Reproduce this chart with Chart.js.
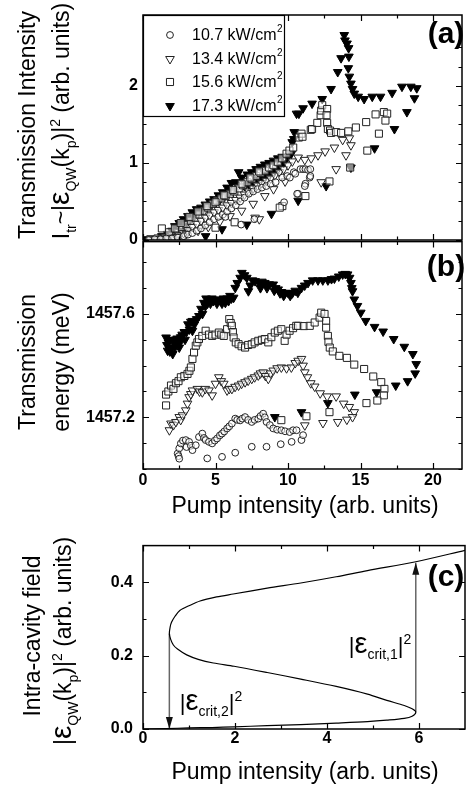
<!DOCTYPE html>
<html>
<head>
<meta charset="utf-8">
<script src="https://cdn.jsdelivr.net/npm/chart.js@4.4.0/dist/chart.umd.min.js"></script>
<style>
  html, body { margin: 0; padding: 0; background: #fff; }
  #wrap { position: relative; width: 468px; height: 787px; overflow: hidden; }
  #wrap canvas { position: absolute; left: 0; }
</style>
</head>
<body>
<div id="wrap">
  <canvas id="chartA" width="468" height="256" style="top:0px"></canvas>
  <canvas id="chartB" width="468" height="306" style="top:224px"></canvas>
  <canvas id="chartC" width="468" height="261" style="top:526px"></canvas>
</div>
<script>
'use strict';

// ---------- data ----------
const powerLabels = ['10.7 kW/cm', '13.4 kW/cm', '15.6 kW/cm', '17.3 kW/cm'];

// (a) transmission intensity vs pump intensity
const intX107 = [0.4,0.8,1.2,1.6,2.0,2.4,2.8,3.1,3.4,3.7,4.0,4.3,4.6,4.9,5.2,5.5,5.68,5.8,6.1,6.4,6.7,7.0,7.3,7.6,7.9,8.2,8.5,8.8,9.15,9.6,9.95,10.13,10.4,10.5,10.86,11.04,11.2,11.38,11.54,11.5,11.54,11.2,11.16,10.7,10.63,9.73,7.68,6.77];
const intY107 = [0.00,0.01,0.01,0.02,0.02,0.03,0.05,0.07,0.09,0.12,0.15,0.19,0.23,0.27,0.30,0.33,0.30,0.37,0.41,0.45,0.50,0.55,0.60,0.63,0.66,0.68,0.70,0.73,0.75,0.81,0.83,0.81,0.88,0.86,0.92,0.92,0.92,0.91,0.92,0.81,0.83,0.73,0.70,0.60,0.60,0.49,0.27,0.20];
const intX134 = [0.5,0.9,1.3,1.7,2.1,2.5,2.8,3.1,3.4,3.7,4.0,4.3,4.6,4.9,5.2,5.5,5.8,6.1,6.4,6.7,7.0,7.3,7.6,7.9,8.2,8.5,8.8,9.1,9.4,9.7,10.0,10.3,10.7,11.16,11.6,12.07,12.56,13.2,13.77,14.23,14.34,14.0,13.32,12.29,8.02,7.73,
    2.3,3.0,3.8,4.5,5.3,6.0,6.8,7.6,8.4,9.0,9.8];
const intY134 = [0.01,0.01,0.02,0.02,0.03,0.06,0.09,0.13,0.17,0.21,0.25,0.29,0.32,0.36,0.39,0.42,0.45,0.48,0.52,0.55,0.59,0.63,0.67,0.71,0.74,0.77,0.80,0.84,0.88,0.92,0.97,1.02,1.07,1.04,1.06,1.10,1.15,1.20,1.30,1.32,1.23,1.10,0.92,0.75,0.27,0.29,
    0.04,0.08,0.12,0.17,0.24,0.31,0.38,0.47,0.57,0.66,0.76];
const intX156 = [0.5,1.0,1.3,1.5,2.0,2.4,2.7,3.0,3.3,3.6,3.9,4.2,4.5,4.8,5.1,5.4,5.7,6.0,6.3,6.6,6.9,7.2,7.5,7.8,8.1,8.4,8.7,9.0,9.3,9.6,9.9,10.1,10.36,10.75,10.93,11.0,11.57,11.66,12.02,12.25,12.29,12.36,12.7,12.66,12.7,12.75,12.9,12.97,13.32,13.66,14.16,14.68,15.39,16.04,16.61,16.84,16.72,16.27,15.47,14.29,12.86,11.2,9.61,9.43,6.32,5.0,
    1.8,2.2,2.6,3.2,3.8,4.4,5.0,5.6,6.2,6.8,7.4,8.0];
const intY156 = [0.01,0.02,0.15,0.03,0.05,0.09,0.14,0.19,0.25,0.29,0.33,0.38,0.42,0.47,0.51,0.54,0.57,0.60,0.63,0.67,0.71,0.75,0.79,0.83,0.87,0.90,0.94,0.97,1.01,1.06,1.12,1.16,1.20,1.33,1.38,1.34,1.43,1.44,1.52,1.62,1.68,1.75,1.70,1.62,1.52,1.44,1.42,1.39,1.40,1.39,1.41,1.46,1.53,1.63,1.66,1.64,1.55,1.38,1.16,0.94,0.76,0.57,0.44,0.42,0.23,0.16,
    0.10,0.15,0.22,0.30,0.37,0.44,0.49,0.58,0.65,0.73,0.81,0.89];
const intX173 = [0.3,0.7,1.1,1.5,1.9,2.3,2.6,2.9,3.2,3.5,3.8,4.1,4.4,4.7,5.0,5.3,5.6,5.9,6.2,6.4,6.6,6.8,7.0,7.3,7.6,7.9,8.2,8.5,8.8,9.1,9.4,9.7,10.0,10.23,10.29,10.4,10.43,10.59,10.75,11.04,11.66,12.36,12.97,13.43,13.66,13.88,13.93,14.07,14.18,14.2,14.16,14.23,14.34,14.45,14.57,14.84,15.25,15.81,16.38,17.18,17.86,18.47,18.88,18.72,18.2,17.34,15.97,14.34,12.63,10.7,8.86,7.16,5.45,4.32,
    1.3,1.7,2.0,2.2,2.5,2.8,3.1,3.4,3.7,4.0,4.3,4.6,4.9,5.2,5.5,5.8,6.1,7.2,7.5,7.8,8.1,8.4,8.7,9.0,9.3,9.6];
const intY173 = [0.01,0.01,0.02,0.03,0.05,0.08,0.12,0.18,0.25,0.30,0.35,0.39,0.42,0.45,0.48,0.52,0.56,0.60,0.63,0.75,0.88,0.81,0.70,0.72,0.75,0.78,0.81,0.84,0.87,0.90,0.95,1.00,1.08,1.12,1.27,1.31,1.40,1.64,1.64,1.71,1.77,1.83,1.96,2.18,2.36,2.66,2.59,2.55,2.49,2.38,2.23,2.12,2.03,1.96,1.90,1.86,1.83,1.86,1.86,1.91,1.99,1.99,1.97,1.84,1.66,1.44,1.19,0.94,0.70,0.51,0.34,0.20,0.14,0.05,
    0.05,0.08,0.12,0.18,0.22,0.27,0.31,0.36,0.40,0.42,0.46,0.50,0.53,0.58,0.62,0.68,0.74,0.85,0.88,0.92,0.95,0.98,1.00,1.03,1.06,1.08];

// (b) transmission energy vs pump intensity
const enX107 = [2.39,2.45,2.5,2.5,2.61,2.75,2.95,3.0,3.18,3.3,3.41,3.64,3.86,4.09,4.2,4.32,4.55,4.77,4.95,5.11,5.3,5.45,5.6,5.8,5.95,6.13,6.36,6.5,6.7,6.85,7.04,7.25,7.5,7.7,7.95,8.1,8.29,8.4,8.52,8.75,8.98,9.25,9.54,9.8,10.11,10.25,10.35,10.59,10.93,11.04,4.43,5.45,6.36,7.5,8.52,9.5];
const enY107 = [1457.060,1457.050,1457.080,1457.040,1457.099,1457.110,1457.112,1457.085,1457.105,1457.090,1457.073,1457.092,1457.124,1457.137,1457.120,1457.112,1457.105,1457.099,1457.110,1457.118,1457.130,1457.137,1457.145,1457.157,1457.165,1457.176,1457.195,1457.190,1457.188,1457.195,1457.201,1457.190,1457.182,1457.190,1457.195,1457.205,1457.214,1457.200,1457.182,1457.170,1457.157,1457.152,1457.150,1457.146,1457.143,1457.105,1457.150,1457.150,1457.112,1457.131,1457.041,1457.047,1457.063,1457.086,1457.086,1457.096];
const enX134 = [1.82,1.93,2.1,2.27,2.5,2.6,2.73,2.95,3.07,3.18,3.3,3.41,3.75,3.9,4.09,4.3,4.55,4.77,5.0,5.23,5.4,5.57,5.8,5.95,6.13,6.35,6.59,6.8,7.04,7.25,7.5,7.7,7.95,8.1,8.29,8.45,8.64,8.8,8.98,9.25,9.54,9.9,10.23,10.5,10.7,10.93,11.04,11.16,11.34,11.57,11.84,12.22,12.7,13.32,13.84,14.23,14.57,14.45,14.06,13.43,12.41,11.16];
const enY134 = [1457.150,1457.176,1457.170,1457.182,1457.201,1457.190,1457.208,1457.227,1457.253,1457.278,1457.290,1457.304,1457.310,1457.300,1457.297,1457.310,1457.304,1457.285,1457.330,1457.355,1457.340,1457.330,1457.304,1457.310,1457.310,1457.318,1457.323,1457.330,1457.336,1457.342,1457.349,1457.355,1457.362,1457.370,1457.374,1457.360,1457.349,1457.370,1457.381,1457.390,1457.393,1457.390,1457.393,1457.410,1457.419,1457.426,1457.400,1457.374,1457.355,1457.332,1457.319,1457.293,1457.281,1457.281,1457.253,1457.240,1457.220,1457.201,1457.191,1457.182,1457.178,1457.169];
const enX156 = [1.59,1.59,1.75,1.93,2.1,2.27,2.45,2.61,2.85,3.07,3.2,3.3,3.41,3.52,3.64,3.75,3.86,4.09,4.32,4.55,4.77,5.0,5.23,5.4,5.57,5.8,5.95,6.05,6.13,6.2,6.25,6.4,6.59,6.8,7.04,7.25,7.5,7.7,7.95,8.2,8.4,8.64,8.85,9.09,9.3,9.54,9.77,9.9,10.11,10.35,10.57,10.7,11.1,11.5,11.84,12.18,12.29,12.52,12.63,12.63,12.75,12.79,12.88,13.09,13.54,14.06,14.57,15.25,15.88,16.43,16.65,16.61,16.16,15.41,12.86,11.27,9.54];
const enY156 = [1457.246,1457.288,1457.300,1457.323,1457.310,1457.332,1457.340,1457.355,1457.360,1457.368,1457.380,1457.393,1457.426,1457.451,1457.477,1457.490,1457.503,1457.515,1457.535,1457.520,1457.515,1457.520,1457.528,1457.520,1457.515,1457.541,1457.580,1457.565,1457.554,1457.530,1457.509,1457.490,1457.483,1457.475,1457.470,1457.480,1457.483,1457.490,1457.496,1457.500,1457.503,1457.490,1457.510,1457.528,1457.535,1457.541,1457.496,1457.520,1457.535,1457.545,1457.554,1457.554,1457.553,1457.554,1457.567,1457.586,1457.605,1457.600,1457.573,1457.547,1457.515,1457.492,1457.470,1457.455,1457.438,1457.430,1457.404,1457.387,1457.358,1457.336,1457.310,1457.285,1457.265,1457.255,1457.220,1457.204,1457.189];
const enX173 = [1.59,1.70,1.8,1.9,2.05,2.15,2.27,2.4,2.5,2.6,2.73,2.9,3.0,3.2,3.41,3.41,3.55,3.7,3.86,4.0,4.2,4.35,4.55,4.75,5.0,5.23,5.45,5.68,5.9,6.1,6.25,6.36,6.5,6.7,6.82,7.0,7.16,7.27,7.4,7.55,7.73,8.0,8.2,8.4,8.7,8.98,9.15,9.32,9.55,9.8,10.0,10.3,10.68,10.93,11.15,11.38,11.7,12.07,12.4,12.75,13.0,13.2,13.5,13.77,13.95,14.11,14.25,14.34,14.4,14.45,14.57,14.79,15.02,15.36,15.97,16.56,17.29,18.02,18.61,18.84,18.77,18.25,17.43,16.11,14.61,12.75,10.93,9.09,
    1.65,1.75,1.85,2.0,2.2,2.35,2.55,2.7,2.85,3.1,3.3,4.1,4.3,4.45,4.65,4.85,5.1,5.35,5.55,5.8,6.0,8.1,8.55,9.05,9.45,9.7,10.15,10.5];
const enY173 = [1457.509,1457.458,1457.500,1457.470,1457.445,1457.490,1457.483,1457.500,1457.470,1457.510,1457.515,1457.500,1457.530,1457.540,1457.535,1457.573,1457.560,1457.580,1457.592,1457.620,1457.643,1457.660,1457.656,1457.660,1457.655,1457.656,1457.640,1457.643,1457.650,1457.660,1457.663,1457.701,1457.720,1457.740,1457.759,1457.750,1457.740,1457.688,1457.710,1457.730,1457.727,1457.720,1457.725,1457.720,1457.715,1457.714,1457.700,1457.695,1457.685,1457.680,1457.682,1457.680,1457.682,1457.701,1457.710,1457.720,1457.730,1457.730,1457.730,1457.730,1457.735,1457.737,1457.745,1457.753,1457.755,1457.753,1457.740,1457.720,1457.700,1457.688,1457.656,1457.631,1457.605,1457.573,1457.550,1457.532,1457.503,1457.473,1457.445,1457.406,1457.370,1457.340,1457.323,1457.297,1457.288,1457.255,1457.220,1457.201,
    1457.480,1457.490,1457.455,1457.500,1457.470,1457.505,1457.490,1457.520,1457.530,1457.560,1457.570,1457.600,1457.630,1457.640,1457.640,1457.650,1457.640,1457.650,1457.660,1457.660,1457.670,1457.700,1457.700,1457.690,1457.680,1457.670,1457.670,1457.690];

// (c) intra-cavity field (bistability curve, traced along the S shape)
const fieldX = [0,0.5,1.0,1.5,1.98,2.7,3.43,4.2,4.88,5.3,5.68,5.85,5.93,5.85,5.68,5.3,4.88,4.2,3.43,2.7,1.98,1.53,1.2,0.95,0.75,0.66,0.6,0.573,0.59,0.62,0.7,0.8,1.0,1.24,1.6,1.96,2.7,3.43,4.2,4.88,5.93,7.0];
const fieldY = [0,0.001,0.003,0.004,0.006,0.009,0.012,0.016,0.020,0.024,0.029,0.035,0.046,0.055,0.064,0.078,0.095,0.116,0.136,0.154,0.171,0.180,0.190,0.202,0.218,0.229,0.245,0.260,0.278,0.291,0.308,0.323,0.336,0.349,0.360,0.368,0.384,0.398,0.415,0.432,0.456,0.487];
const arrowX = [0.573, 5.93];
const arrowFrom = [0.26, 0.046];
const arrowTo = [0.0, 0.453];

// ticks
const ticksXab = [0, 5, 10, 15, 20];
const minorXab = [2.5, 7.5, 12.5, 17.5];
const ticksYa = [0, 1, 2];
const minorYa = [0.25, 0.5, 0.75, 1.25, 1.5, 1.75, 2.25, 2.5, 2.75];
const ticksYb = [1457.2, 1457.6];
const minorYb = [1457.0, 1457.1, 1457.3, 1457.4, 1457.5, 1457.7, 1457.8];
const ticksXc = [0, 2, 4, 6];
const minorXc = [1, 3, 5];
const ticksYc = [0, 0.2, 0.4];
const minorYc = [0.1, 0.3];

// ---------- helpers ----------
const FONT = '"Liberation Sans", Arial, Helvetica, sans-serif';
const OPEN = 'rgba(255,255,255,0.55)';

const markers = [
    { style: 'circle', r: 3.4, rot: 0, fill: OPEN, line: '#222' },
    { style: 'triangle', r: 5, rot: 180, fill: OPEN, line: '#222' },
    { style: 'rect', r: 5, rot: 0, fill: OPEN, line: '#222' },
    { style: 'triangle', r: 5, rot: 180, fill: '#000', line: '#000' }
];

function zip(xs, ys) {
    return xs.map((x, i) => ({ x: x, y: ys[i] }));
}

function scatterSet(xs, ys, m) {
    return {
        data: zip(xs, ys),
        showLine: false,
        pointStyle: m.style,
        pointRadius: m.r,
        pointHoverRadius: m.r,
        pointRotation: m.rot,
        pointBackgroundColor: m.fill,
        pointBorderColor: m.line,
        pointBorderWidth: 1
    };
}

function axis(min, max, majors, o) {
    return {
        type: 'linear',
        min: min,
        max: max,
        grid: { display: false, drawTicks: false },
        border: { display: false },
        ticks: {
            display: o.labels,
            color: '#000',
            padding: o.pad,
            autoSkip: false,
            maxRotation: 0,
            font: { family: FONT, size: 16, weight: 'bold' },
            callback: o.fmt
        },
        afterBuildTicks: s => { s.ticks = majors.map(v => ({ value: v })); },
        afterFit: s => {
            if (o.width) s.width = o.width;
            if (o.height) s.height = o.height;
        }
    };
}

// text with sub/superscripts, centred on (x, y)
function drawRich(ctx, item, top) {
    const size = item.size;
    const w = item.bold ? 'bold ' : '';
    const fontOf = k => {
        if (k === 'sub' || k === 'sup') return w + Math.round(size * 0.62) + 'px ' + FONT;
        if (k === 'eps') return w + Math.round(size * 1.3) + 'px ' + FONT;
        return w + size + 'px ' + FONT;
    };
    ctx.save();
    ctx.translate(item.x, item.y - top);
    ctx.rotate(item.rot || 0);
    ctx.fillStyle = '#000';
    ctx.textBaseline = 'alphabetic';
    ctx.textAlign = 'left';
    let width = 0;
    item.parts.forEach(p => { ctx.font = fontOf(p[1]); width += ctx.measureText(p[0]).width; });
    let cx = -width / 2;
    const base = size * 0.36;
    item.parts.forEach(p => {
        ctx.font = fontOf(p[1]);
        let dy = 0;
        if (p[1] === 'sub') dy = size * 0.28;
        if (p[1] === 'sup') dy = -size * 0.42;
        ctx.fillText(p[0], cx, base + dy);
        cx += ctx.measureText(p[0]).width;
    });
    ctx.restore();
}

function drawMarker(ctx, m, x, y) {
    ctx.beginPath();
    if (m.style === 'circle') {
        ctx.arc(x, y, m.r, 0, Math.PI * 2);
    } else if (m.style === 'rect') {
        const h = m.r * Math.SQRT1_2;
        ctx.rect(x - h, y - h, 2 * h, 2 * h);
    } else {
        let rad = m.rot * Math.PI / 180;
        ctx.moveTo(x + Math.sin(rad) * m.r, y - Math.cos(rad) * m.r);
        for (let k = 0; k < 2; k++) {
            rad += 2 * Math.PI / 3;
            ctx.lineTo(x + Math.sin(rad) * m.r, y - Math.cos(rad) * m.r);
        }
        ctx.closePath();
    }
    ctx.fillStyle = m.fill;
    ctx.strokeStyle = m.line;
    ctx.lineWidth = 1;
    ctx.fill();
    ctx.stroke();
}

// frame, inward ticks, titles, legend, arrow heads
const framePlugin = {
    id: 'frame',
    afterDraw(chart, args, o) {
        const ctx = chart.ctx;
        const a = chart.chartArea;
        const xs = chart.scales.x, ys = chart.scales.y;
        ctx.save();
        ctx.strokeStyle = '#000';
        ctx.lineWidth = 1.2;
        const tickX = (vals, len) => vals.forEach(v => {
            const px = Math.round(xs.getPixelForValue(v)) + 0.5;
            ctx.beginPath();
            ctx.moveTo(px, a.bottom); ctx.lineTo(px, a.bottom - len);
            ctx.moveTo(px, a.top); ctx.lineTo(px, a.top + len);
            ctx.stroke();
        });
        const tickY = (vals, len) => vals.forEach(v => {
            const py = Math.round(ys.getPixelForValue(v)) + 0.5;
            ctx.beginPath();
            ctx.moveTo(a.left, py); ctx.lineTo(a.left + len, py);
            ctx.moveTo(a.right, py); ctx.lineTo(a.right - len, py);
            ctx.stroke();
        });
        tickX(o.xMajor, 6); tickX(o.xMinor, 3.5);
        tickY(o.yMajor, 6); tickY(o.yMinor, 3.5);

        if (o.arrows) {
            ctx.fillStyle = '#111';
            o.arrows.x.forEach((xv, i) => {
                const px = xs.getPixelForValue(xv);
                const ty = ys.getPixelForValue(o.arrows.to[i]);
                const fy = ys.getPixelForValue(o.arrows.from[i]);
                const dir = ty > fy ? 1 : -1;
                ctx.beginPath();
                ctx.moveTo(px, ty);
                ctx.lineTo(px - 3.5, ty - dir * 12);
                ctx.lineTo(px + 3.5, ty - dir * 12);
                ctx.closePath();
                ctx.fill();
            });
        }

        if (o.legend) {
            const L = o.legend;
            ctx.fillStyle = '#fff';
            ctx.fillRect(a.left, a.top, L.w, L.h);
            ctx.strokeStyle = '#000';
            ctx.lineWidth = 1.2;
            ctx.strokeRect(a.left + 0.5, a.top + 0.5, L.w, L.h);
            L.labels.forEach((lab, i) => {
                const yy = a.top + L.rows[i];
                drawMarker(ctx, Object.assign({}, markers[i], { fill: markers[i].fill === OPEN ? '#fff' : markers[i].fill }), a.left + 27, yy);
                ctx.fillStyle = '#000';
                ctx.textBaseline = 'middle';
                ctx.textAlign = 'left';
                ctx.font = '16px ' + FONT;
                ctx.fillText(lab, a.left + 49, yy + 1);
                const tw = ctx.measureText(lab).width;
                ctx.font = '10px ' + FONT;
                ctx.fillText('2', a.left + 49 + tw + 0.5, yy - 6);
            });
        }

        ctx.strokeStyle = '#000';
        ctx.lineWidth = 1.5;
        ctx.strokeRect(a.left, a.top, a.right - a.left, a.bottom - a.top);
        ctx.restore();

        (o.texts || []).forEach(t => drawRich(ctx, t, o.top));
    }
};

const UP = -Math.PI / 2;

function commonOptions(padTop, scales, frame) {
    return {
        responsive: false,
        animation: false,
        events: [],
        layout: { padding: { top: padTop, right: 3, left: 0, bottom: 0 } },
        scales: scales,
        plugins: { legend: { display: false }, tooltip: { enabled: false }, frame: frame }
    };
}

// ---------- panel (a) ----------
new Chart(document.getElementById('chartA'), {
    type: 'scatter',
    plugins: [framePlugin],
    data: {
        datasets: [
            scatterSet(intX107, intY107, markers[0]),
            scatterSet(intX134, intY134, markers[1]),
            scatterSet(intX156, intY156, markers[2]),
            scatterSet(intX173, intY173, markers[3])
        ]
    },
    options: commonOptions(15, {
        x: axis(0, 22, ticksXab, { labels: false, pad: 0, height: 16 }),
        y: axis(0, 2.92, ticksYa, { labels: true, pad: 5, width: 143, fmt: v => String(v) })
    }, {
        top: 0,
        xMajor: ticksXab, xMinor: minorXab, yMajor: ticksYa, yMinor: minorYa,
        legend: { w: 141, h: 101, rows: [20, 44, 67, 91], labels: powerLabels },
        texts: [
            { parts: [['Transmission Intensity', 'n']], x: 27, y: 125, rot: UP, size: 23 },
            { parts: [['I', 'n'], ['tr', 'sub'], ['~|', 'n'], ['ε', 'eps'], ['QW', 'sub'], ['(k', 'n'], ['p', 'sub'], [')|', 'n'], ['2', 'sup'], [' (arb. units)', 'n']], x: 61, y: 121, rot: UP, size: 23 },
            { parts: [['(a)', 'n']], x: 446, y: 32, size: 30, bold: true }
        ]
    })
});

// ---------- panel (b) ----------
new Chart(document.getElementById('chartB'), {
    type: 'scatter',
    plugins: [framePlugin],
    data: {
        datasets: [
            scatterSet(enX107, enY107, markers[0]),
            scatterSet(enX134, enY134, markers[1]),
            scatterSet(enX156, enY156, markers[2]),
            scatterSet(enX173, enY173, markers[3])
        ]
    },
    options: commonOptions(16, {
        x: axis(0, 22, ticksXab, { labels: true, pad: 2, height: 61, fmt: v => String(v) }),
        y: axis(1457.0, 1457.88, ticksYb, { labels: true, pad: 8, width: 143, fmt: v => v.toFixed(1) })
    }, {
        top: 224,
        xMajor: ticksXab, xMinor: minorXab, yMajor: ticksYb, yMinor: minorYb,
        texts: [
            { parts: [['Transmission', 'n']], x: 27, y: 362, rot: UP, size: 23 },
            { parts: [['energy (meV)', 'n']], x: 61, y: 362, rot: UP, size: 23 },
            { parts: [['(b)', 'n']], x: 446, y: 265, size: 30, bold: true },
            { parts: [['Pump intensity (arb. units)', 'n']], x: 305, y: 505, size: 23 }
        ]
    })
});

// ---------- panel (c) ----------
const arrowSets = arrowX.map((xv, i) => ({
    data: zip([xv, xv], [arrowFrom[i], arrowTo[i]]),
    showLine: true,
    borderColor: '#666',
    borderWidth: 1.5,
    pointRadius: 0
}));

new Chart(document.getElementById('chartC'), {
    type: 'scatter',
    plugins: [framePlugin],
    data: {
        datasets: [{
            data: zip(fieldX, fieldY),
            showLine: true,
            borderColor: '#000',
            borderWidth: 1.2,
            tension: 0.3,
            pointRadius: 0
        }].concat(arrowSets)
    },
    options: commonOptions(16, {
        x: axis(0, 7, ticksXc, { labels: true, pad: 0, height: 58, fmt: v => String(v) }),
        y: axis(0, 0.5, ticksYc, { labels: true, pad: 10, width: 143, fmt: v => v.toFixed(1) })
    }, {
        top: 526,
        xMajor: ticksXc, xMinor: minorXc, yMajor: ticksYc, yMinor: minorYc,
        arrows: { x: arrowX, from: arrowFrom, to: arrowTo },
        texts: [
            { parts: [['Intra-cavity field', 'n']], x: 32, y: 636, rot: UP, size: 23 },
            { parts: [['|', 'n'], ['ε', 'eps'], ['QW', 'sub'], ['(k', 'n'], ['p', 'sub'], [')|', 'n'], ['2', 'sup'], [' (arb. units)', 'n']], x: 63, y: 641, rot: UP, size: 23 },
            { parts: [['(c)', 'n']], x: 446, y: 575, size: 30, bold: true },
            { parts: [['|', 'n'], ['ε', 'eps'], ['crit,2', 'sub'], ['|', 'n'], ['2', 'sup']], x: 211, y: 702, size: 22 },
            { parts: [['|', 'n'], ['ε', 'eps'], ['crit,1', 'sub'], ['|', 'n'], ['2', 'sup']], x: 380, y: 645, size: 22 },
            { parts: [['Pump intensity (arb. units)', 'n']], x: 305, y: 771, size: 23 }
        ]
    })
});
</script>
</body>
</html>
